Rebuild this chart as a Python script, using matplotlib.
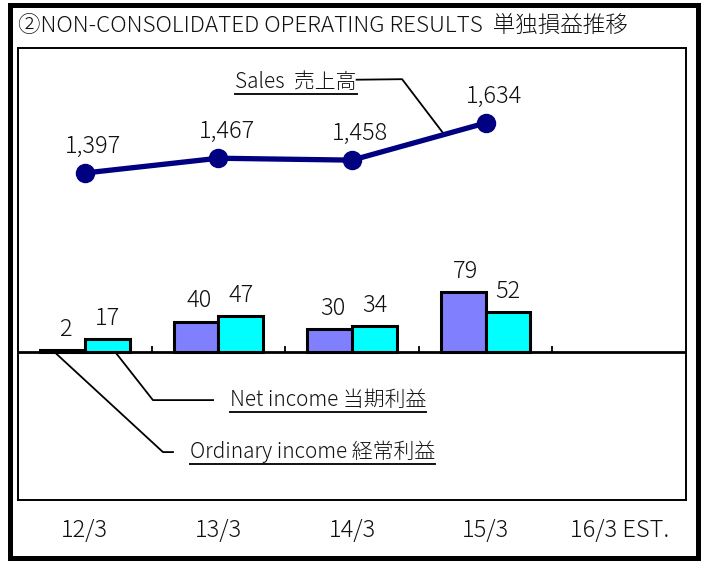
import matplotlib
matplotlib.use('Agg')
import matplotlib.pyplot as plt
from matplotlib.patches import Rectangle
from matplotlib.lines import Line2D
import numpy as np

plt.rcParams['font.family'] = ['Noto Sans CJK JP', 'DejaVu Sans']
plt.rcParams['font.weight'] = 'light'

# ------------------------------------------------------------------
# Data
# ------------------------------------------------------------------
categories = ['12/3', '13/3', '14/3', '15/3', '16/3 EST.']
sales = [1397, 1467, 1458, 1634]
ordinary_income = [2, 40, 30, 79]
net_income = [17, 47, 34, 52]

title = '②NON-CONSOLIDATED OPERATING RESULTS  単独損益推移'
sales_label = 'Sales  売上高'
net_label = 'Net income 当期利益'
ordinary_label = 'Ordinary income 経常利益'

W, H = 704, 563
fig = plt.figure(figsize=(W / 100, H / 100), dpi=100)

# outer frame
fig.patches.append(Rectangle((10 / W, 5 / H), 688 / W, 553 / H, transform=fig.transFigure,
                             fill=False, lw=3.6, ec='black'))
fig.text(18 / W, 1 - 27 / H, title, fontsize=16.2, va='center', ha='left', color='#111111')

# plot box: x 18..686, y 48..500 (pixels from top)
ax = fig.add_axes([18 / W, 1 - 500 / H, 668 / W, 452 / H])
for s in ax.spines.values():
    s.set_linewidth(1.4)
ax.set_xlim(-0.5, 4.5)
ax.set_ylim(-148 / 0.76, 304 / 0.76)
ax.set_xticks([])
ax.set_yticks([])

x = np.arange(len(ordinary_income))
bw = 0.335
ax.bar(x - bw / 2, ordinary_income, bw, color='#8080FF', edgecolor='black', lw=2.2, zorder=3)
ax.bar(x + bw / 2, net_income, bw, color='#00FFFF', edgecolor='black', lw=2.2, zorder=3)
ax.axhline(0, color='black', lw=2.0, zorder=4)
ax.vlines(np.arange(len(categories) - 1) + 0.5, 0, 8, color='black', lw=1.3)

for xi, v in zip(x - bw / 2, ordinary_income):
    ax.annotate(str(v), (xi, v), xytext=(2, 6), textcoords='offset points',
                ha='center', va='bottom', fontsize=17, color='#111111')
for xi, v in zip(x + bw / 2, net_income):
    ax.annotate(str(v), (xi, v), xytext=(0, 6), textcoords='offset points',
                ha='center', va='bottom', fontsize=17, color='#111111')

# sales on its own scale
ax2 = ax.twinx()
ax2.set_ylim(1397 - 327 / 0.211, 1397 + 125 / 0.211)
ax2.set_yticks([])
for s in ax2.spines.values():
    s.set_visible(False)
xs = np.arange(len(sales))
ax2.plot(xs, sales, color='#000080', lw=3.8, marker='o', ms=13, zorder=5)
for xi, v in zip(xs, sales):
    ax2.annotate(f'{v:,}', (xi, v), xytext=(6, 10), textcoords='offset points',
                 ha='center', va='bottom', fontsize=17, color='#111111')

# category labels
for i, c in enumerate(categories):
    fig.text((18 + 133.6 * (i + 0.5)) / W, 1 - 530 / H, c, fontsize=17,
             ha='center', va='center', color='#111111')

# series labels (underlined) with leader lines
t_sales = ax.text(0.325, 0.925, sales_label, transform=ax.transAxes, fontsize=15,
                  ha='left', va='center', color='#111111')
t_net = ax.text(0.317, 0.221, net_label, transform=ax.transAxes, fontsize=15,
                ha='left', va='center', color='#111111')
t_ord = ax.text(0.257, 0.106, ordinary_label, transform=ax.transAxes, fontsize=15,
                ha='left', va='center', color='#111111')

fig.canvas.draw()
r = fig.canvas.get_renderer()
for t in (t_sales, t_net, t_ord):
    bb = t.get_window_extent(r)
    fig.lines.append(Line2D([bb.x0 / W, bb.x1 / W], [(bb.y0 - 1) / H] * 2,
                            transform=fig.transFigure, color='#111111', lw=1.4))

to_ax = ax.transAxes.inverted()


def leader(pts_axes, end_disp):
    end = to_ax.transform(end_disp)
    px = [p[0] for p in pts_axes] + [end[0]]
    py = [p[1] for p in pts_axes] + [end[1]]
    ax.plot(px, py, transform=ax.transAxes, color='black', lw=1.3, zorder=6, clip_on=False)


# sales: from label end, along to the 14/3-15/3 segment
bb = t_sales.get_window_extent(r)
s_start = to_ax.transform((bb.x1, bb.y0 + bb.height * 0.6))
f = 0.69
sx = 2 + f
sy = sales[2] + f * (sales[3] - sales[2])
leader([s_start, (0.575, 0.931)], ax2.transData.transform((sx, sy)))
leader([(0.292, 0.221), (0.202, 0.221)], ax.transData.transform((0 + bw / 2 + 0.06, 0)))
leader([(0.232, 0.106), (0.217, 0.106)], ax.transData.transform((0 - bw / 2 - 0.06, 0)))

fig.savefig('out.png', dpi=100)
